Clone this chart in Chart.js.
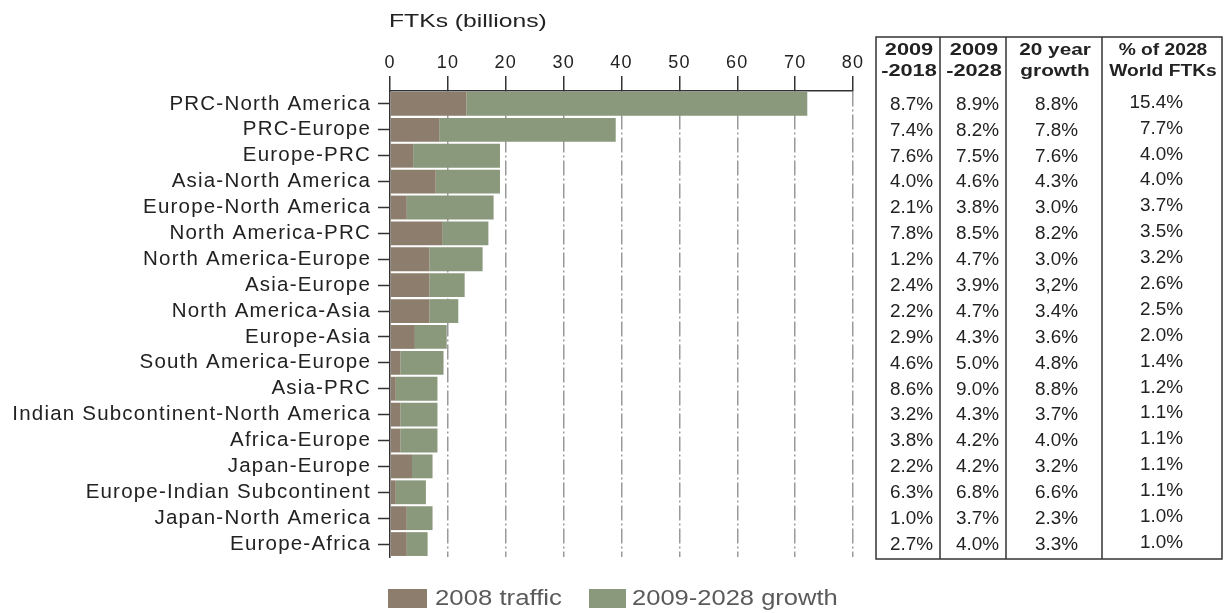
<!DOCTYPE html>
<html>
<head>
<meta charset="utf-8">
<script src="https://cdn.jsdelivr.net/npm/chart.js@4.4.1/dist/chart.umd.min.js"></script>
<style>
  html, body { margin: 0; padding: 0; background: #fff; }
  #ftkChart { position: absolute; left: 0; top: 0; }
</style>
</head>
<body>
<canvas id="ftkChart" width="1227" height="613"></canvas>
<script>
// Routes, top to bottom
const routes = [
  'PRC-North America', 'PRC-Europe', 'Europe-PRC', 'Asia-North America',
  'Europe-North America', 'North America-PRC', 'North America-Europe', 'Asia-Europe',
  'North America-Asia', 'Europe-Asia', 'South America-Europe', 'Asia-PRC',
  'Indian Subcontinent-North America', 'Africa-Europe', 'Japan-Europe',
  'Europe-Indian Subcontinent', 'Japan-North America', 'Europe-Africa'
];

// FTKs (billions)
const traffic2008 = [13.2, 8.5, 4.0, 7.9, 2.9, 9.0, 6.8, 6.8, 6.8, 4.3, 1.8, 1.0, 1.8, 1.8, 3.8, 1.0, 2.9, 2.9];
const growth0928 = [58.9, 30.5, 15.0, 11.1, 15.0, 8.0, 9.2, 6.1, 5.0, 5.5, 7.45, 7.2, 6.4, 6.4, 3.55, 5.2, 4.45, 3.6];

// side table
const tableHeads = [['2009', '-2018'], ['2009', '-2028'], ['20 year', 'growth'], ['% of 2028', 'World FTKs']];
const rate0918 = ['8.7%', '7.4%', '7.6%', '4.0%', '2.1%', '7.8%', '1.2%', '2.4%', '2.2%', '2.9%', '4.6%', '8.6%', '3.2%', '3.8%', '2.2%', '6.3%', '1.0%', '2.7%'];
const rate0928 = ['8.9%', '8.2%', '7.5%', '4.6%', '3.8%', '8.5%', '4.7%', '3.9%', '4.7%', '4.3%', '5.0%', '9.0%', '4.3%', '4.2%', '4.2%', '6.8%', '3.7%', '4.0%'];
const rate20yr = ['8.8%', '7.8%', '7.6%', '4.3%', '3.0%', '8.2%', '3.0%', '3,2%', '3.4%', '3.6%', '4.8%', '8.8%', '3.7%', '4.0%', '3.2%', '6.6%', '2.3%', '3.3%'];
const share2028 = ['15.4%', '7.7%', '4.0%', '4.0%', '3.7%', '3.5%', '3.2%', '2.6%', '2.5%', '2.0%', '1.4%', '1.2%', '1.1%', '1.1%', '1.1%', '1.1%', '1.0%', '1.0%'];

const BROWN = '#8d7d6c';
const GREEN = '#8a987b';
const INK = '#222';

function stretchText(ctx, text, x, y, font, align, sx, color) {
  ctx.save();
  ctx.letterSpacing = '0px';
  ctx.font = font;
  ctx.fillStyle = color || INK;
  ctx.textAlign = align;
  ctx.textBaseline = 'middle';
  ctx.translate(x, y);
  ctx.scale(sx, 1);
  ctx.fillText(text, 0, 0);
  ctx.restore();
}

// wide lettering for the axis labels
const spacing = {
  id: 'spacing',
  beforeDraw(chart) { chart.ctx.letterSpacing = '1.2px'; }
};

// title, table and legend
const extras = {
  id: 'extras',
  afterDraw(chart) {
    const ctx = chart.ctx;
    const y = chart.scales.y;
    ctx.save();
    ctx.letterSpacing = '0px';

    stretchText(ctx, 'FTKs (billions)', 389, 22, '19px "Liberation Sans", Arial, sans-serif', 'left', 1.3);

    // table frame
    const cols = [876, 940, 1006, 1102, 1222];
    const top = 37, bottom = 559;
    ctx.strokeStyle = '#333';
    ctx.lineWidth = 1.5;
    ctx.strokeRect(cols[0], top, cols[4] - cols[0], bottom - top);
    for (let i = 1; i < 4; i++) {
      ctx.beginPath();
      ctx.moveTo(cols[i], top);
      ctx.lineTo(cols[i], bottom);
      ctx.stroke();
    }

    const headFont = 'bold 16px "Liberation Sans", Arial, sans-serif';
    const headScale = [1.36, 1.36, 1.3, 1.2];
    tableHeads.forEach((h, i) => {
      const cx = (cols[i] + cols[i + 1]) / 2 + 1;
      stretchText(ctx, h[0], cx, 51, headFont, 'center', headScale[i]);
      stretchText(ctx, h[1], cx, 72, headFont, 'center', headScale[i]);
    });

    const valFont = '17.5px "Liberation Sans", Arial, sans-serif';
    const rightEdges = [933, 999, 1078, 1183];
    [rate0918, rate0928, rate20yr, share2028].forEach((col, c) => {
      col.forEach((v, i) => {
        const py = y.getPixelForValue(i) + (c === 3 ? -1 : 1);
        stretchText(ctx, v, rightEdges[c], py, valFont, 'right', 1.08);
      });
    });

    // legend
    const ds = chart.data.datasets;
    const legendFont = '22px "Liberation Sans", Arial, sans-serif';
    ctx.fillStyle = ds[0].backgroundColor;
    ctx.fillRect(388, 589, 39, 19);
    stretchText(ctx, ds[0].label, 435, 599, legendFont, 'left', 1.17, '#5a5a5a');
    ctx.fillStyle = ds[1].backgroundColor;
    ctx.fillRect(589, 589, 37, 19);
    stretchText(ctx, ds[1].label, 632, 599, legendFont, 'left', 1.16, '#5a5a5a');
    ctx.restore();
  }
};

new Chart(document.getElementById('ftkChart'), {
  type: 'bar',
  data: {
    labels: routes,
    datasets: [
      { label: '2008 traffic', data: traffic2008, backgroundColor: BROWN },
      { label: '2009-2028 growth', data: growth0928, backgroundColor: GREEN }
    ]
  },
  options: {
    indexAxis: 'y',
    responsive: false,
    animation: false,
    devicePixelRatio: 1,
    barPercentage: 0.92,
    categoryPercentage: 1,
    layout: { padding: { top: 35, right: 374, bottom: 56, left: 0 } },
    plugins: {
      legend: { display: false },
      tooltip: { enabled: false }
    },
    scales: {
      x: {
        position: 'top',
        stacked: true,
        min: 0,
        max: 80,
        afterFit(scale) { scale.height = 56; },
        ticks: {
          stepSize: 10,
          padding: 2,
          color: INK,
          font: { family: '"Liberation Sans", Arial, sans-serif', size: 18 }
        },
        grid: {
          color: ctx => ctx.tick && ctx.tick.value === 0 ? 'rgba(0,0,0,0)' : '#9a9a9a',
          lineWidth: 1.5,
          tickLength: 15,
          tickColor: '#333',
          tickWidth: 1.5
        },
        border: { color: '#333', width: 1.5, dash: [15, 3, 2, 3] }
      },
      y: {
        stacked: true,
        afterFit(scale) { scale.width = 390; },
        ticks: {
          autoSkip: false,
          padding: 7,
          color: INK,
          font: { family: '"Liberation Sans", Arial, sans-serif', size: 20.5 }
        },
        grid: {
          offset: false,
          drawOnChartArea: false,
          tickLength: 12,
          tickColor: '#333',
          tickWidth: 1.5
        },
        border: { color: '#333', width: 1.5 }
      }
    }
  },
  plugins: [spacing, extras]
});
</script>
</body>
</html>
